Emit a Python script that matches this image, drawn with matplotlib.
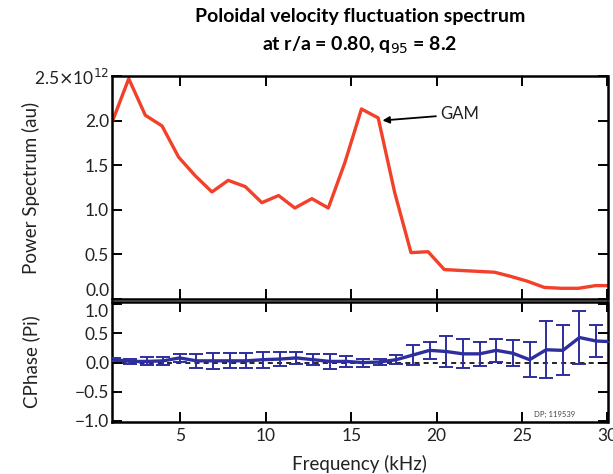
import matplotlib
matplotlib.use("Agg")
import matplotlib.pyplot as plt
from matplotlib.ticker import FixedLocator, FuncFormatter

plt.rcParams['font.family'] = ['Lato', 'DejaVu Sans']

# Power spectrum (top panel)
freq_ps = [1.04, 1.98, 2.95, 3.93, 4.90, 5.88, 6.85, 7.80, 8.80, 9.77, 10.75, 11.70,
           12.70, 13.66, 14.63, 15.60, 16.58, 17.55, 18.50, 19.50, 20.45, 21.4, 22.4,
           23.4, 24.4, 25.3, 26.3, 27.3, 28.3, 29.3, 30.2]
power = [2.00, 2.47, 2.06, 1.94, 1.59, 1.38, 1.20, 1.33, 1.26, 1.08, 1.16, 1.02,
         1.125, 1.02, 1.53, 2.13, 2.03, 1.19, 0.52, 0.53, 0.33, 0.32, 0.31,
         0.30, 0.25, 0.20, 0.13, 0.12, 0.12, 0.15, 0.15]

# Cross phase (bottom panel)
freq_cp = [1.14, 2.08, 3.05, 4.00, 4.96, 5.94, 6.91, 7.89, 8.86, 9.84, 10.81, 11.79,
           12.76, 13.74, 14.71, 15.69, 16.66, 17.64, 18.61, 19.59, 20.56, 21.54,
           22.51, 23.49, 24.46, 25.44, 26.41, 27.39, 28.36, 29.34, 30.2]
cphase = [0.05, 0.02, 0.02, 0.03, 0.08, 0.03, 0.03, 0.03, 0.03, 0.05, 0.06, 0.08,
          0.05, 0.02, 0.02, 0.00, 0.01, 0.05, 0.13, 0.21, 0.19, 0.15, 0.15, 0.21,
          0.16, 0.05, 0.22, 0.21, 0.43, 0.37, 0.36]
cphase_err = [0.03, 0.05, 0.07, 0.07, 0.07, 0.12, 0.14, 0.13, 0.13, 0.14, 0.12, 0.11,
              0.10, 0.13, 0.10, 0.07, 0.05, 0.08, 0.17, 0.15, 0.27, 0.25, 0.21, 0.20,
              0.22, 0.30, 0.49, 0.43, 0.45, 0.28, 0.0]

xticks = [5, 10, 15, 20, 25, 30]
top_yticks = [0.0, 0.5, 1.0, 1.5, 2.0, 2.5]
bot_yticks = [-1.0, -0.5, 0.0, 0.5, 1.0]

W, H = 613, 474
fig = plt.figure(figsize=(W/100, H/100), dpi=100)
L, R = 112/W, 607.5/W
ax1 = fig.add_axes([L, 1-299/H, R-L, (299-76)/H])
ax2 = fig.add_axes([L, 1-422/H, R-L, (422-302)/H])

red = '#f2402a'
blue = '#2e2e9e'
txt = '#222222'

ax1.plot(freq_ps, [p*1e12 for p in power], color=red, lw=2.4, solid_joinstyle='round')
ax1.set_xlim(1, 30)
ax1.set_ylim(0, 2.5e12)
ax1.yaxis.set_major_locator(FixedLocator([v*1e12 for v in top_yticks]))
ax1.yaxis.set_major_formatter(FuncFormatter(
    lambda v, p: r'2.5$\times$10$^{12}$' if abs(v-2.5e12) < 1e9 else f'{v/1e12:.1f}'))
ax1.xaxis.set_major_locator(FixedLocator(xticks))
ax1.set_xticklabels([])
ax1.set_ylabel('Power Spectrum (au)', fontsize=13.5, color=txt)
ax1.annotate('GAM', xy=(16.75, 2.0e12), xytext=(20.2, 2.07e12),
             fontsize=12, va='center', ha='left', color=txt,
             arrowprops=dict(arrowstyle='-|>', color='black', lw=1.3,
                             shrinkA=1, shrinkB=1, mutation_scale=10))

ax2.errorbar(freq_cp, cphase, yerr=cphase_err, color=blue, lw=2.4, elinewidth=1.4,
             capsize=5, capthick=1.4, zorder=3)
ax2.axhline(0, color='black', lw=1.2, ls=(0, (3, 2.5)), zorder=2)
ax2.set_xlim(1, 30)
ax2.set_ylim(-1.02, 1.04)
ax2.yaxis.set_major_locator(FixedLocator(bot_yticks))
ax2.yaxis.set_major_formatter(FuncFormatter(lambda v, p: f'{v:.1f}'.replace('-', '\u2212')))
ax2.xaxis.set_major_locator(FixedLocator(xticks))
ax2.set_xlabel('Frequency (kHz)', fontsize=13.5, color=txt, labelpad=8)
ax2.set_ylabel('CPhase (Pi)', fontsize=13.5, color=txt)
ax2.text(0.935, 0.035, 'DP; 119539', transform=ax2.transAxes, fontsize=5.5,
         ha='right', va='bottom', color='#444444')

for ax in (ax1, ax2):
    for s in ax.spines.values():
        s.set_linewidth(1.8)
    ax.tick_params(direction='in', top=True, right=True, length=7, width=1.4,
                   labelsize=12.5, labelcolor=txt, pad=2)
ax2.tick_params(axis='x', pad=4)

fig.canvas.draw()
# nudge the touching labels apart as in the reference
ax1.get_yticklabels()[0].set_va('bottom')
ax2.get_yticklabels()[-1].set_va('top')

ax1.yaxis.set_label_coords(-0.145, 0.5)
ax2.yaxis.set_label_coords(-0.145, 0.5)

fig.suptitle('Poloidal velocity fluctuation spectrum\nat r/a = 0.80, q$_{95}$ = 8.2',
             x=(L+R)/2, y=0.983, fontsize=14, fontweight='bold', va='top', linespacing=1.6)

fig.savefig('out.png', dpi=100)
